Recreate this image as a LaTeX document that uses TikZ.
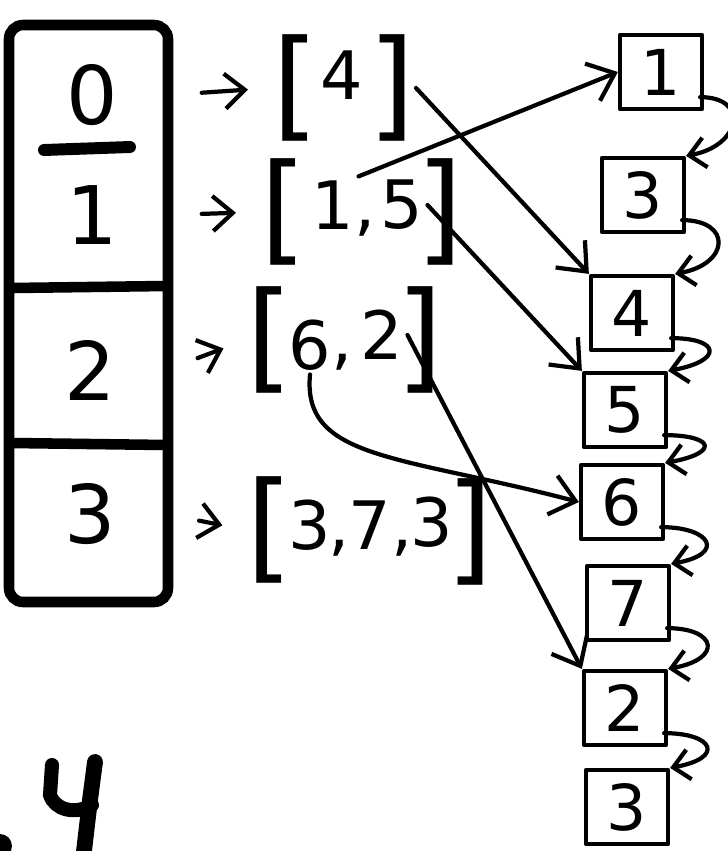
\documentclass[tikz,border=0pt]{standalone}
\usepackage{fontspec}
\setmainfont{DejaVu Sans}
\usetikzlibrary{arrows.meta}
\begin{document}
\begin{tikzpicture}[x=0.01cm,y=-0.01cm,
  ink/.style={line width=1.2pt, line cap=round, line join=round},
  hand/.style={ink, -{Straight Barb[length=2.4mm,width=4mm,line width=1.2pt]}},
  celltxt/.style={font=\fontsize{23}{28}\selectfont, minimum width=1.5cm, minimum height=1.0cm, inner sep=0pt},
  listtxt/.style={font=\fontsize{19}{23}\selectfont, inner sep=1pt},
  brk/.style={font=\fontsize{34}{38}\selectfont, inner sep=0pt},
  cellbox/.style={draw, ink, font=\fontsize{18}{21}\selectfont, minimum width=0.82cm, minimum height=0.74cm, inner sep=0pt},
  ptr/.style={ink, -{Straight Barb[length=2mm,width=3.5mm,line width=1.2pt]}, shorten <=3.4mm, shorten >=2.4mm},
  chainarr/.style={ink, -{Straight Barb[length=1.6mm,width=3mm,line width=1.2pt]}}]
\useasboundingbox (0,0) rectangle (728,851);
% table
\draw[line width=3pt, rounded corners=4pt] (9,25) rectangle (168,602);
\draw[line width=3.4pt, line cap=round] (44,150) -- (130,147);
\draw[line width=3pt] (12,288) -- (166,286);
\draw[line width=3pt] (12,443) -- (166,445);
\node[celltxt] (c0) at (92,95) {0};
\node[celltxt] (c1) at (92,215) {1};
\node[celltxt] (c2) at (90,370) {2};
\node[celltxt] (c3) at (90,514) {3};
% lists
\node[brk] (b0l) at (296,88) {[};
\node[listtxt] (e0a) at (342,75) {4};
\node[brk] (b0r) at (392,88) {]};
\node[brk] (b1l) at (284,212) {[};
\node[listtxt] (e1a) at (333,205) {1};
\node[listtxt] at (365,228) {,};
\node[listtxt] (e1b) at (402,205) {5};
\node[brk] (b1r) at (440,212) {]};
\node[brk] (b2l) at (270,340) {[};
\node[listtxt] (e2a) at (310,345) {6};
\node[listtxt] at (342,362) {,};
\node[listtxt] (e2b) at (382,335) {2};
\node[brk] (b2r) at (420,340) {]};
\node[brk] (b3l) at (270,530) {[};
\node[listtxt] (e3a) at (310,525) {3};
\node[listtxt] at (339,548) {,};
\node[listtxt] (e3b) at (370,525) {7};
\node[listtxt] at (402,548) {,};
\node[listtxt] (e3c) at (432,522) {3};
\node[brk] (b3r) at (470,532) {]};
% cell -> list arrows
\draw[ptr] (c0.east) -- (b0l.west);
\draw[ptr] (c1.east) -- (b1l.west);
\draw[ptr] (c2.east) -- (b2l.west);
\draw[ptr] (c3.east) -- (b3l.west);
% right column
\node[cellbox] (r1) at (661,72) {1};
\node[cellbox] (r2) at (643,195) {3};
\node[cellbox] (r3) at (632,313) {4};
\node[cellbox] (r4) at (625,410) {5};
\node[cellbox] (r5) at (622,502) {6};
\node[cellbox] (r6) at (628,603) {7};
\node[cellbox] (r7) at (625,708) {2};
\node[cellbox] (r8) at (627,807) {3};
% chain arrows
\foreach \a/\b in {r1/r2,r2/r3,r3/r4,r4/r5,r5/r6,r6/r7,r7/r8}
  \draw[chainarr] (\a.south east) ++(-4,-14) .. controls +(50,0) and +(55,-10) .. (\b.north east);
% element -> node arrows
\draw[hand] (b0r.east) -- (r3.north west);
\draw[hand] (e1a.north east) -- (r1.west);
\draw[hand] (e1b.east) -- (r4.north west);
\draw[hand] (e2a.south) .. controls (302,460) and (400,455) .. (r5.west);
\draw[hand] (e2b.east) -- (r7.north west);
% bottom-left marks
\draw[line width=4pt, line cap=round] (52,765) -- (50,795) .. controls (55,810) and (75,815) .. (92,805);
\draw[line width=4.5pt, line cap=round] (95,762) -- (90,800) -- (84,851);
\fill (0,846) circle (12);
\end{tikzpicture}
\end{document}
